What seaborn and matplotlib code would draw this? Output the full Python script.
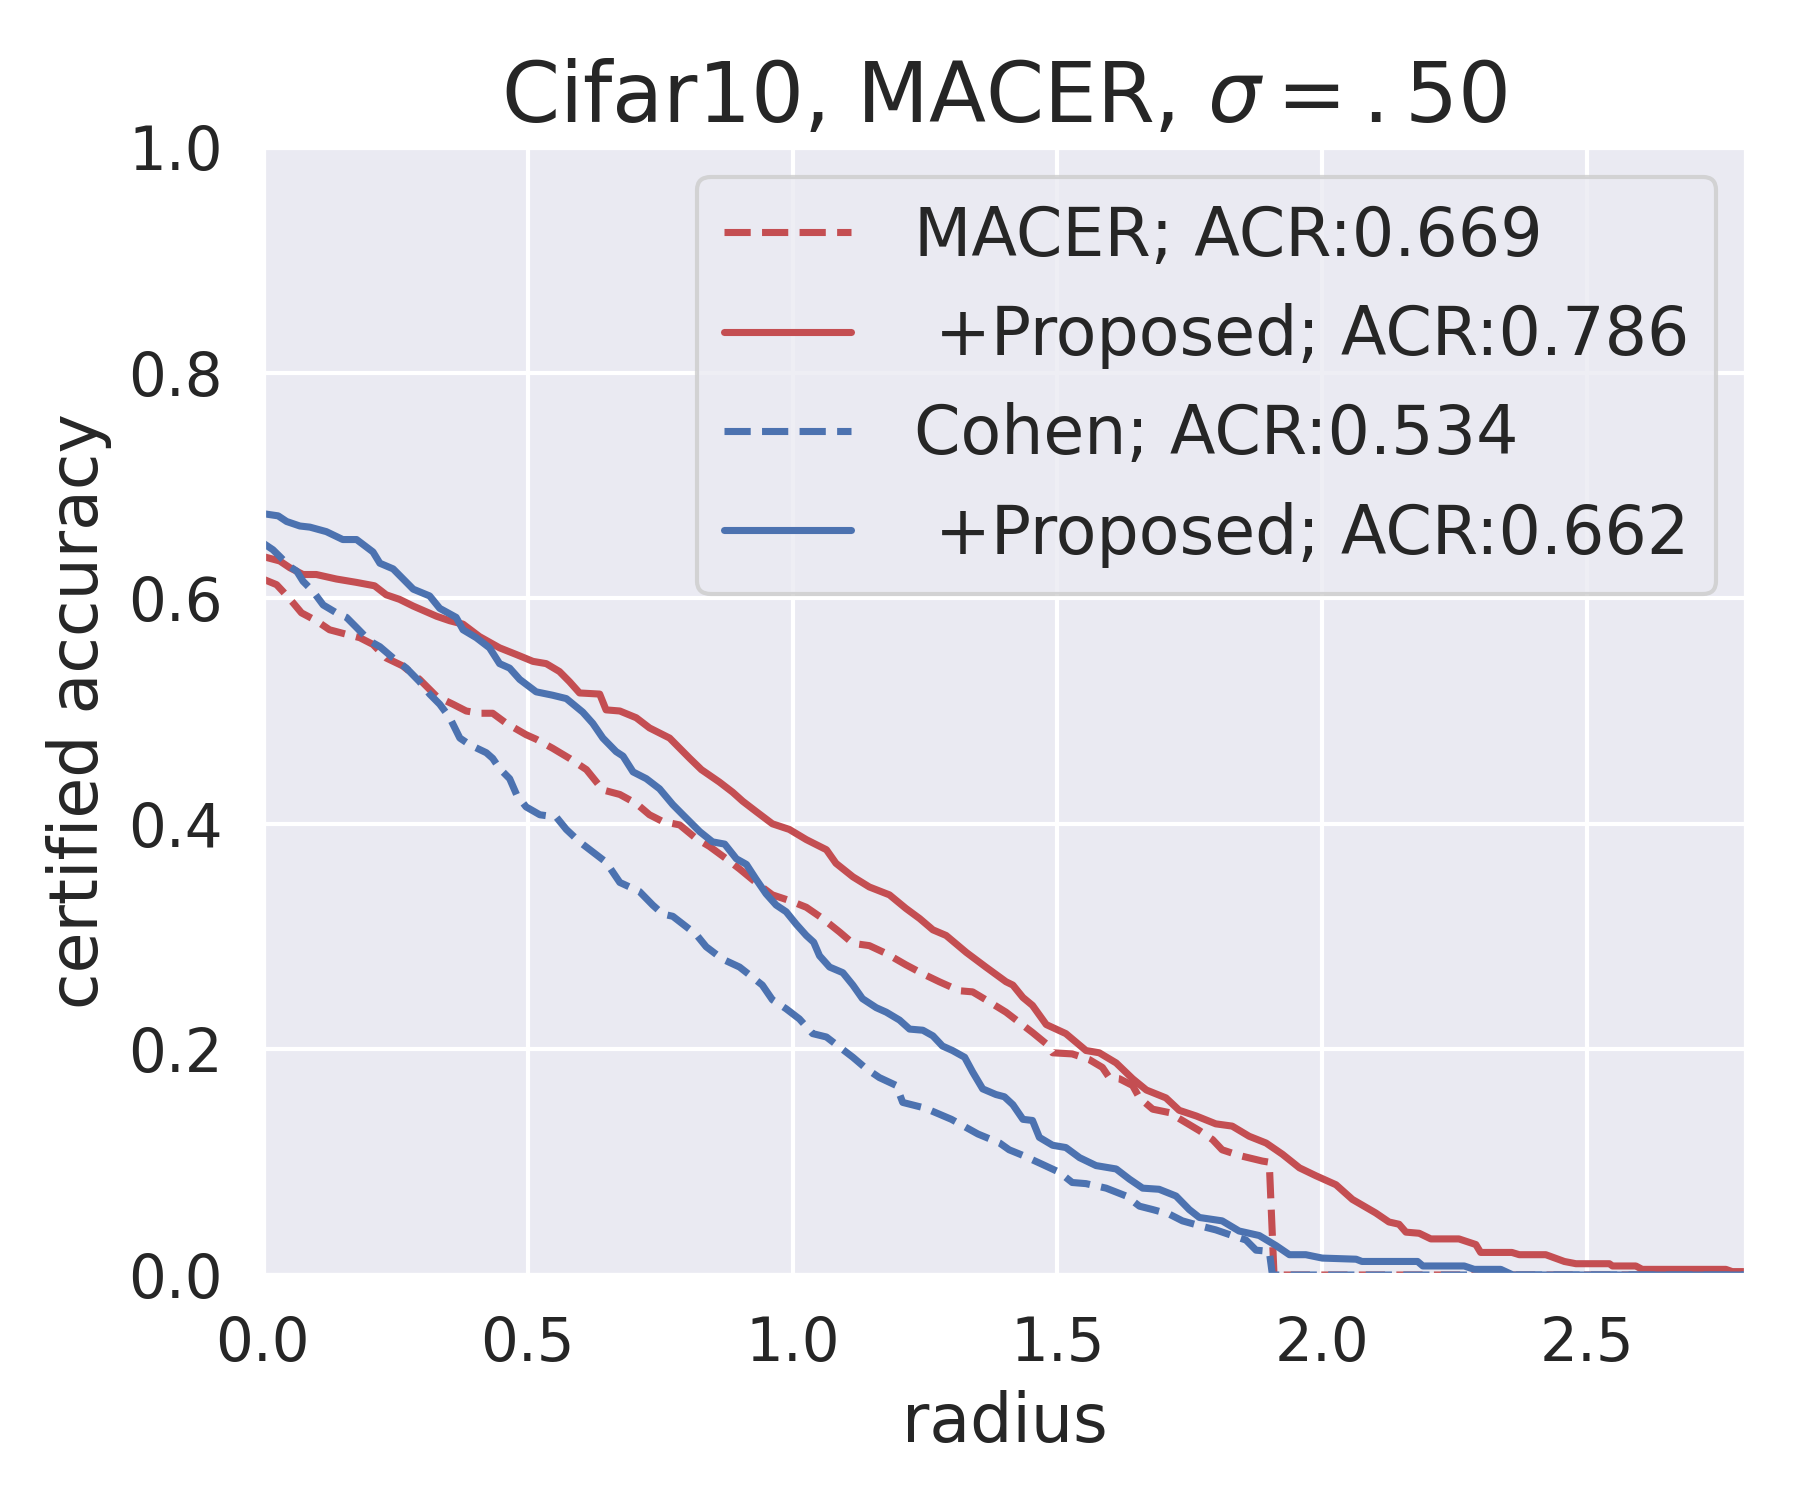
import matplotlib
matplotlib.use("Agg")
import matplotlib.pyplot as plt
import seaborn as sns

sns.set(style="darkgrid", color_codes=True)
plt.rcParams['font.family'] = ['DejaVu Sans']

# MACER (dashed red)
macer_r = [0.0, 0.026, 0.038, 0.057, 0.073, 0.101, 0.126, 0.158, 0.183, 0.208, 0.233, 0.264,
           0.296, 0.328, 0.359, 0.384, 0.409, 0.434, 0.460, 0.497, 0.516, 0.547, 0.579, 0.611,
           0.642, 0.674, 0.705, 0.730, 0.755, 0.787, 0.818, 0.843, 0.875, 0.900, 0.931, 0.962,
           0.994, 1.026, 1.057, 1.089, 1.114, 1.145, 1.177, 1.214, 1.246, 1.277, 1.315, 1.340,
           1.372, 1.403, 1.428, 1.453, 1.479, 1.491, 1.528, 1.560, 1.585, 1.598, 1.617, 1.642,
           1.655, 1.680, 1.711, 1.743, 1.768, 1.793, 1.811, 1.843, 1.887, 1.900, 1.909, 2.8]
macer_acc = [0.617, 0.612, 0.606, 0.596, 0.587, 0.580, 0.572, 0.568, 0.565, 0.559, 0.547, 0.540,
             0.528, 0.513, 0.506, 0.500, 0.498, 0.498, 0.489, 0.479, 0.475, 0.467, 0.458, 0.448,
             0.430, 0.426, 0.418, 0.408, 0.402, 0.399, 0.387, 0.380, 0.369, 0.360, 0.348, 0.337,
             0.332, 0.326, 0.316, 0.304, 0.294, 0.292, 0.285, 0.275, 0.267, 0.260, 0.252, 0.251,
             0.242, 0.233, 0.224, 0.215, 0.205, 0.197, 0.196, 0.191, 0.184, 0.175, 0.174, 0.168,
             0.157, 0.147, 0.144, 0.135, 0.128, 0.120, 0.111, 0.106, 0.101, 0.100, 0.0, 0.0]

# MACER + Proposed (solid red)
macer_prop_r = [0.0, 0.032, 0.051, 0.076, 0.101, 0.139, 0.177, 0.211, 0.233, 0.258, 0.284, 0.328,
                0.353, 0.378, 0.409, 0.447, 0.479, 0.510, 0.535, 0.560, 0.579, 0.598, 0.636, 0.648,
                0.674, 0.705, 0.730, 0.768, 0.787, 0.806, 0.828, 0.862, 0.887, 0.906, 0.931, 0.962,
                0.994, 1.026, 1.064, 1.082, 1.114, 1.145, 1.183, 1.214, 1.240, 1.265, 1.290, 1.328,
                1.365, 1.403, 1.416, 1.435, 1.453, 1.479, 1.516, 1.554, 1.579, 1.611, 1.642, 1.668,
                1.705, 1.730, 1.762, 1.799, 1.830, 1.862, 1.894, 1.925, 1.957, 1.988, 2.026, 2.057,
                2.101, 2.126, 2.145, 2.158, 2.183, 2.205, 2.258, 2.290, 2.299, 2.358, 2.372, 2.422,
                2.457, 2.479, 2.542, 2.548, 2.592, 2.604, 2.762, 2.774, 2.8]
macer_prop_acc = [0.637, 0.633, 0.627, 0.621, 0.621, 0.617, 0.614, 0.611, 0.603, 0.599, 0.593, 0.584,
                  0.580, 0.577, 0.566, 0.556, 0.550, 0.544, 0.542, 0.535, 0.526, 0.516, 0.515, 0.501,
                  0.500, 0.494, 0.485, 0.476, 0.467, 0.458, 0.448, 0.437, 0.428, 0.420, 0.411, 0.400,
                  0.395, 0.386, 0.377, 0.365, 0.353, 0.344, 0.337, 0.325, 0.316, 0.306, 0.301, 0.286,
                  0.273, 0.260, 0.257, 0.246, 0.239, 0.222, 0.214, 0.199, 0.197, 0.188, 0.174, 0.164,
                  0.157, 0.146, 0.141, 0.134, 0.132, 0.123, 0.117, 0.107, 0.095, 0.088, 0.080, 0.067,
                  0.055, 0.047, 0.045, 0.038, 0.037, 0.032, 0.032, 0.027, 0.020, 0.020, 0.018, 0.018,
                  0.012, 0.010, 0.010, 0.008, 0.008, 0.005, 0.005, 0.003, 0.003]

# Cohen (dashed blue)
cohen_r = [0.0, 0.019, 0.032, 0.051, 0.064, 0.076, 0.095, 0.114, 0.139, 0.158, 0.177, 0.202,
           0.221, 0.246, 0.271, 0.296, 0.315, 0.334, 0.353, 0.372, 0.391, 0.422, 0.434, 0.447,
           0.466, 0.479, 0.497, 0.523, 0.554, 0.573, 0.598, 0.623, 0.648, 0.674, 0.711, 0.736,
           0.755, 0.774, 0.818, 0.837, 0.868, 0.900, 0.919, 0.943, 0.962, 0.988, 1.013, 1.038,
           1.064, 1.089, 1.114, 1.139, 1.164, 1.196, 1.208, 1.250, 1.300, 1.350, 1.391, 1.409,
           1.435, 1.472, 1.504, 1.528, 1.554, 1.592, 1.630, 1.655, 1.680, 1.711, 1.736, 1.774,
           1.799, 1.830, 1.856, 1.875, 1.900, 1.906, 2.8]
cohen_acc = [0.649, 0.643, 0.637, 0.628, 0.624, 0.615, 0.606, 0.594, 0.587, 0.583, 0.574, 0.562,
             0.557, 0.547, 0.538, 0.526, 0.515, 0.506, 0.494, 0.476, 0.470, 0.463, 0.458, 0.449,
             0.440, 0.426, 0.415, 0.408, 0.406, 0.395, 0.384, 0.375, 0.366, 0.348, 0.340, 0.328,
             0.320, 0.318, 0.302, 0.291, 0.280, 0.273, 0.266, 0.257, 0.244, 0.236, 0.227, 0.214,
             0.211, 0.202, 0.193, 0.183, 0.175, 0.168, 0.153, 0.148, 0.138, 0.125, 0.117, 0.111,
             0.106, 0.098, 0.091, 0.082, 0.081, 0.077, 0.070, 0.061, 0.058, 0.054, 0.048, 0.043,
             0.040, 0.035, 0.031, 0.022, 0.021, 0.0, 0.0]

# Cohen + Proposed (solid blue)
cohen_prop_r = [0.0, 0.029, 0.045, 0.070, 0.089, 0.120, 0.151, 0.177, 0.208, 0.221, 0.246, 0.284,
                0.315, 0.334, 0.365, 0.378, 0.403, 0.428, 0.447, 0.466, 0.485, 0.516, 0.547, 0.573,
                0.604, 0.623, 0.642, 0.667, 0.680, 0.699, 0.724, 0.749, 0.774, 0.793, 0.825, 0.849,
                0.872, 0.894, 0.913, 0.931, 0.950, 0.969, 0.988, 1.007, 1.026, 1.040, 1.051, 1.070,
                1.095, 1.114, 1.132, 1.158, 1.177, 1.202, 1.221, 1.246, 1.265, 1.283, 1.302, 1.325,
                1.340, 1.359, 1.384, 1.400, 1.416, 1.435, 1.453, 1.466, 1.491, 1.516, 1.542, 1.573,
                1.611, 1.636, 1.661, 1.692, 1.724, 1.749, 1.768, 1.811, 1.843, 1.881, 1.913, 1.938,
                1.969, 2.000, 2.064, 2.075, 2.180, 2.190, 2.268, 2.287, 2.337, 2.360, 2.8]
cohen_prop_acc = [0.675, 0.673, 0.668, 0.664, 0.663, 0.659, 0.652, 0.652, 0.641, 0.631, 0.626, 0.608,
                  0.602, 0.591, 0.583, 0.572, 0.565, 0.556, 0.542, 0.538, 0.528, 0.517, 0.514, 0.511,
                  0.499, 0.489, 0.476, 0.464, 0.460, 0.446, 0.440, 0.431, 0.417, 0.408, 0.393, 0.384,
                  0.382, 0.369, 0.364, 0.351, 0.338, 0.328, 0.322, 0.311, 0.301, 0.295, 0.283, 0.273,
                  0.268, 0.257, 0.245, 0.237, 0.233, 0.226, 0.218, 0.217, 0.212, 0.203, 0.199, 0.193,
                  0.180, 0.165, 0.160, 0.158, 0.151, 0.138, 0.137, 0.122, 0.115, 0.113, 0.104, 0.097,
                  0.094, 0.085, 0.077, 0.076, 0.070, 0.058, 0.051, 0.048, 0.039, 0.035, 0.026, 0.018,
                  0.018, 0.015, 0.014, 0.012, 0.012, 0.008, 0.008, 0.005, 0.005, 0.0, 0.0]

series = [
    (macer_r, macer_acc, "r", "--", "MACER; ACR:0.669"),
    (macer_prop_r, macer_prop_acc, "r", "-", " +Proposed; ACR:0.786"),
    (cohen_r, cohen_acc, "b", "--", "Cohen; ACR:0.534"),
    (cohen_prop_r, cohen_prop_acc, "b", "-", " +Proposed; ACR:0.662"),
]

fig, ax = plt.subplots(figsize=(6, 5), dpi=300)
for r, acc, c, ls, lab in series:
    sns.lineplot(x=r, y=acc, ax=ax, color=c, linestyle=ls, linewidth=1.7,
                 label=lab, sort=False, estimator=None)

ax.set_xlim(0, 2.8)
ax.set_ylim(0, 1.0)
ax.set_xticks([0.0, 0.5, 1.0, 1.5, 2.0, 2.5])
ax.set_yticks([0.0, 0.2, 0.4, 0.6, 0.8, 1.0])
ax.tick_params(labelsize=14.3)
ax.set_xlabel("radius", fontsize=16)
ax.set_ylabel("certified accuracy", fontsize=16)
ax.set_title(r"Cifar10, MACER, $\sigma=.50$", fontsize=20)
ax.legend(loc="upper right", fontsize=16, handlelength=1.9, handletextpad=0.95,
          borderaxespad=0.45)

plt.subplots_adjust(left=0.146, right=0.970, bottom=0.150, top=0.902)
plt.savefig("out.png", dpi=300)
